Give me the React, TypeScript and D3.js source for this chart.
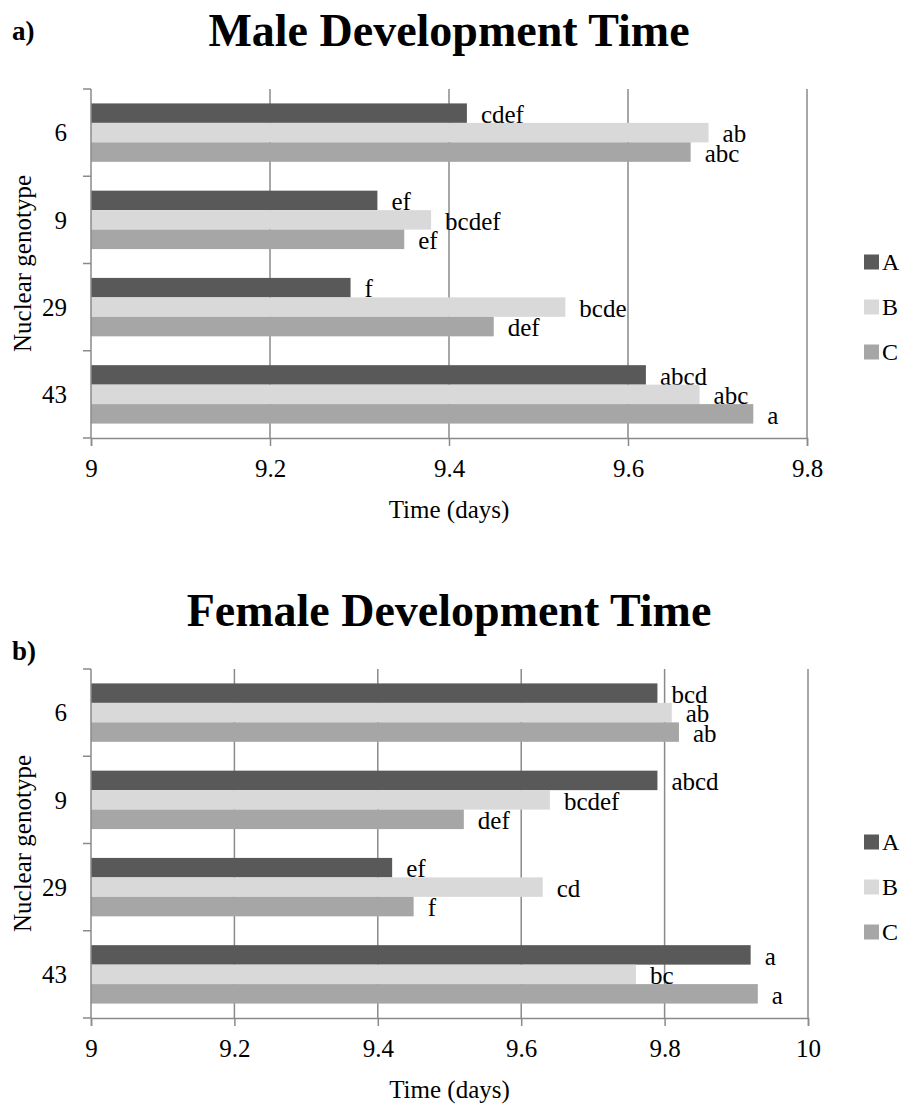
import React, { useEffect, useRef } from 'react';
import * as d3 from 'd3';

// categories and series
const genotypes = ['6', '9', '29', '43'];
const series = ['A', 'B', 'C'];
const colors = ['#595959', '#d9d9d9', '#a6a6a6'];

// male development time (days)
const maleA = [9.42, 9.32, 9.29, 9.62];
const maleB = [9.69, 9.38, 9.53, 9.68];
const maleC = [9.67, 9.35, 9.45, 9.74];
const maleLettersA = ['cdef', 'ef', 'f', 'abcd'];
const maleLettersB = ['ab', 'bcdef', 'bcde', 'abc'];
const maleLettersC = ['abc', 'ef', 'def', 'a'];
const maleTicks = [9, 9.2, 9.4, 9.6, 9.8];

// female development time (days)
const femaleA = [9.79, 9.79, 9.42, 9.92];
const femaleB = [9.81, 9.64, 9.63, 9.76];
const femaleC = [9.82, 9.52, 9.45, 9.93];
const femaleLettersA = ['bcd', 'abcd', 'ef', 'a'];
const femaleLettersB = ['ab', 'bcdef', 'cd', 'bc'];
const femaleLettersC = ['ab', 'def', 'f', 'a'];
const femaleTicks = [9, 9.2, 9.4, 9.6, 9.8, 10];

const FONT = '"Liberation Serif", "Times New Roman", serif';

function drawPanel(svg, opts) {
  const { top, tag, title, values, letters, ticks } = opts;
  const left = 91;
  const right = opts.right;
  const plotTop = top + 89;
  const plotBottom = top + 438;
  const grid = '#8a8a8a';

  const g = svg.append('g');

  const x = d3.scaleLinear()
    .domain([ticks[0], ticks[ticks.length - 1]])
    .range([left, right]);
  const y = d3.scaleBand()
    .domain(genotypes)
    .range([plotTop, plotBottom]);
  const inner = d3.scaleBand()
    .domain(series)
    .range([0, y.bandwidth()])
    .paddingOuter(0.74);

  // titles
  g.append('text')
    .attr('x', 12).attr('y', top + opts.tagY)
    .attr('font-family', FONT).attr('font-weight', 'bold').attr('font-size', 27)
    .text(tag);
  g.append('text')
    .attr('x', 449).attr('y', top + 46)
    .attr('text-anchor', 'middle')
    .attr('font-family', FONT).attr('font-weight', 'bold').attr('font-size', 46)
    .text(title);

  // vertical gridlines
  g.append('g')
    .selectAll('line')
    .data(ticks.slice(1))
    .join('line')
      .attr('x1', d => x(d)).attr('x2', d => x(d))
      .attr('y1', plotTop).attr('y2', plotBottom)
      .attr('stroke', grid).attr('stroke-width', 1.5);

  // bars + significance letters
  series.forEach((s, si) => {
    g.append('g')
      .selectAll('rect')
      .data(values[si])
      .join('rect')
        .attr('x', x(ticks[0]))
        .attr('y', (d, i) => y(genotypes[i]) + inner(s))
        .attr('width', d => x(d) - x(ticks[0]))
        .attr('height', inner.bandwidth())
        .attr('fill', colors[si]);
    g.append('g')
      .selectAll('text')
      .data(values[si])
      .join('text')
        .attr('x', d => x(d) + 14)
        .attr('y', (d, i) => y(genotypes[i]) + inner(s) + inner.bandwidth())
        .attr('font-family', FONT).attr('font-size', 25)
        .text((d, i) => letters[si][i]);
  });

  // x axis
  const xAxis = d3.axisBottom(x)
    .tickValues(ticks)
    .tickSize(8)
    .tickPadding(13)
    .tickFormat(d => String(d));
  const xg = g.append('g')
    .attr('transform', `translate(0, ${plotBottom})`)
    .call(xAxis);
  xg.attr('font-family', FONT);
  xg.select('.domain').attr('stroke', grid).attr('stroke-width', 1.5);
  xg.selectAll('.tick line').attr('stroke', grid).attr('stroke-width', 1.5);
  xg.selectAll('.tick text')
    .attr('font-family', FONT).attr('font-size', 25).attr('fill', '#000');

  // y axis: ticks on category boundaries
  g.append('line')
    .attr('x1', left).attr('x2', left)
    .attr('y1', plotTop).attr('y2', plotBottom)
    .attr('stroke', grid).attr('stroke-width', 1.5);
  const bounds = genotypes.map(c => y(c)).concat([plotBottom]);
  g.append('g')
    .selectAll('line')
    .data(bounds)
    .join('line')
      .attr('x1', left - 8).attr('x2', left)
      .attr('y1', d => d).attr('y2', d => d)
      .attr('stroke', grid).attr('stroke-width', 1.5);
  g.append('g')
    .selectAll('text')
    .data(genotypes)
    .join('text')
      .attr('x', 67)
      .attr('y', d => y(d) + y.bandwidth() / 2)
      .attr('dy', '0.35em')
      .attr('text-anchor', 'end')
      .attr('font-family', FONT).attr('font-size', 25)
      .text(d => d);

  // axis titles
  g.append('text')
    .attr('transform', `translate(22, ${(plotTop + plotBottom) / 2}) rotate(-90)`)
    .attr('dy', '0.35em')
    .attr('text-anchor', 'middle')
    .attr('font-family', FONT).attr('font-size', 25)
    .text('Nuclear genotype');
  g.append('text')
    .attr('x', (left + right) / 2).attr('y', top + 518)
    .attr('text-anchor', 'middle')
    .attr('font-family', FONT).attr('font-size', 25)
    .text('Time (days)');

  // legend
  const lg = g.append('g');
  series.forEach((s, si) => {
    const cy = top + 262 + si * 45;
    lg.append('rect')
      .attr('x', 864).attr('y', cy - 7.5)
      .attr('width', 15).attr('height', 15)
      .attr('fill', colors[si]);
    lg.append('text')
      .attr('x', 882).attr('y', cy)
      .attr('dy', '0.35em')
      .attr('font-family', FONT).attr('font-size', 24)
      .text(s);
  });
}

export default function App() {
  const svgRef = useRef(null);

  useEffect(() => {
    const svg = d3.select(svgRef.current);
    svg.selectAll('*').remove();
    drawPanel(svg, {
      top: 0, tag: 'a)', tagY: 40, title: 'Male Development Time', right: 807,
      values: [maleA, maleB, maleC],
      letters: [maleLettersA, maleLettersB, maleLettersC],
      ticks: maleTicks,
    });
    drawPanel(svg, {
      top: 580, tag: 'b)', tagY: 80, title: 'Female Development Time', right: 808,
      values: [femaleA, femaleB, femaleC],
      letters: [femaleLettersA, femaleLettersB, femaleLettersC],
      ticks: femaleTicks,
    });
  }, []);

  return (
    <svg
      ref={svgRef}
      width={908}
      height={1107}
      style={{ position: 'absolute', left: 0, top: 0, background: '#fff' }}
    />
  );
}
